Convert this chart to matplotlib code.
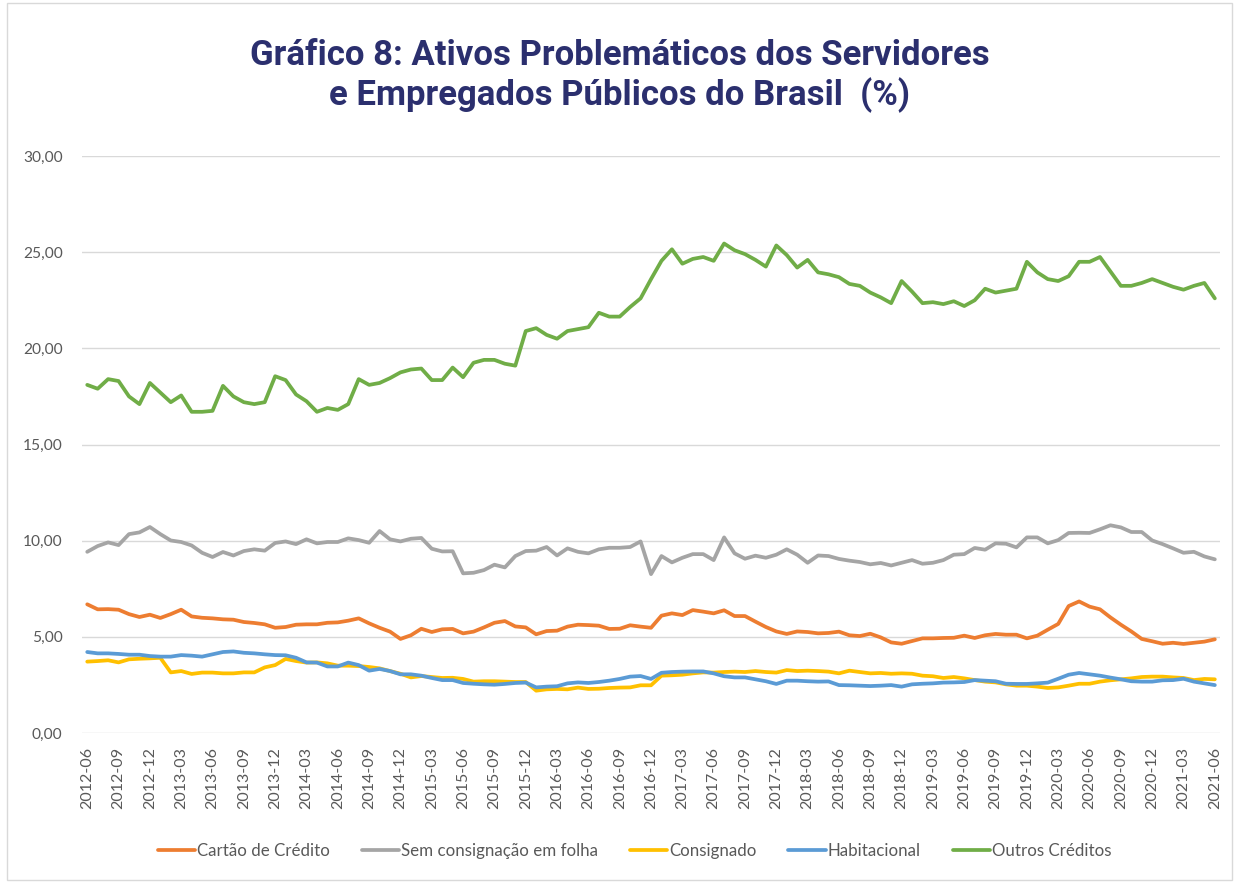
import numpy as np
import pandas as pd
import matplotlib
matplotlib.use('Agg')
import matplotlib.pyplot as plt
from matplotlib.patches import Rectangle

# monthly categories 2012-06 .. 2021-06
months = list(pd.period_range('2012-06', '2021-06', freq='M').strftime('%Y-%m'))

cartao = [6.69, 6.43, 6.44, 6.41, 6.18, 6.03, 6.15, 5.98, 6.18, 6.41,
          6.06, 5.99, 5.96, 5.91, 5.89, 5.77, 5.72, 5.65, 5.47, 5.51,
          5.63, 5.65, 5.65, 5.73, 5.75, 5.84, 5.96, 5.70, 5.47, 5.27,
          4.89, 5.08, 5.42, 5.25, 5.39, 5.41, 5.18, 5.27, 5.49, 5.73,
          5.82, 5.54, 5.49, 5.13, 5.30, 5.32, 5.53, 5.63, 5.61, 5.58,
          5.41, 5.42, 5.60, 5.53, 5.47, 6.10, 6.22, 6.13, 6.39, 6.31,
          6.22, 6.38, 6.08, 6.08, 5.79, 5.51, 5.28, 5.15, 5.28, 5.25,
          5.18, 5.20, 5.27, 5.08, 5.04, 5.16, 4.97, 4.71, 4.64, 4.78,
          4.92, 4.92, 4.94, 4.95, 5.06, 4.94, 5.08, 5.15, 5.11, 5.11,
          4.92, 5.06, 5.37, 5.67, 6.60, 6.84, 6.57, 6.43, 6.01, 5.63,
          5.28, 4.89, 4.77, 4.64, 4.69, 4.63, 4.69, 4.75, 4.87]

sem_consig = [9.42, 9.72, 9.91, 9.77, 10.34, 10.43, 10.71, 10.34, 10.01, 9.93,
              9.75, 9.37, 9.15, 9.41, 9.23, 9.46, 9.55, 9.48, 9.88, 9.96,
              9.82, 10.07, 9.86, 9.93, 9.93, 10.12, 10.03, 9.89, 10.50, 10.07,
              9.96, 10.10, 10.14, 9.58, 9.44, 9.45, 8.30, 8.33, 8.47, 8.75,
              8.61, 9.20, 9.46, 9.48, 9.67, 9.23, 9.60, 9.42, 9.34, 9.55,
              9.63, 9.63, 9.67, 9.96, 8.26, 9.20, 8.87, 9.11, 9.30, 9.30,
              8.99, 10.17, 9.34, 9.06, 9.22, 9.11, 9.27, 9.55, 9.27, 8.85,
              9.23, 9.20, 9.05, 8.96, 8.89, 8.77, 8.84, 8.71, 8.85, 8.99,
              8.80, 8.85, 8.99, 9.27, 9.30, 9.62, 9.53, 9.86, 9.84, 9.65,
              10.17, 10.17, 9.86, 10.03, 10.40, 10.41, 10.40, 10.59, 10.80, 10.69,
              10.45, 10.45, 10.01, 9.82, 9.60, 9.37, 9.42, 9.18, 9.03]

consignado = [3.71, 3.74, 3.78, 3.67, 3.83, 3.86, 3.88, 3.91, 3.15, 3.22,
              3.07, 3.14, 3.14, 3.10, 3.10, 3.15, 3.15, 3.41, 3.53, 3.85,
              3.74, 3.66, 3.67, 3.62, 3.50, 3.50, 3.48, 3.43, 3.36, 3.22,
              3.08, 2.89, 2.96, 2.91, 2.86, 2.87, 2.81, 2.67, 2.69, 2.69,
              2.67, 2.65, 2.65, 2.20, 2.27, 2.29, 2.27, 2.36, 2.29, 2.30,
              2.34, 2.36, 2.37, 2.48, 2.48, 2.98, 3.00, 3.03, 3.10, 3.15,
              3.14, 3.17, 3.19, 3.17, 3.22, 3.17, 3.14, 3.27, 3.22, 3.24,
              3.22, 3.19, 3.10, 3.24, 3.17, 3.10, 3.12, 3.08, 3.10, 3.08,
              2.98, 2.95, 2.86, 2.91, 2.84, 2.75, 2.67, 2.63, 2.53, 2.46,
              2.46, 2.41, 2.34, 2.37, 2.46, 2.56, 2.56, 2.67, 2.74, 2.79,
              2.84, 2.91, 2.93, 2.93, 2.89, 2.86, 2.75, 2.81, 2.79]

habitacional = [4.21, 4.14, 4.14, 4.11, 4.07, 4.07, 4.00, 3.97, 3.97, 4.05,
                4.02, 3.97, 4.09, 4.21, 4.24, 4.17, 4.14, 4.09, 4.05, 4.04,
                3.91, 3.67, 3.66, 3.46, 3.46, 3.66, 3.53, 3.24, 3.33, 3.22,
                3.05, 3.05, 2.98, 2.86, 2.75, 2.75, 2.60, 2.56, 2.53, 2.51,
                2.55, 2.60, 2.62, 2.37, 2.41, 2.43, 2.58, 2.63, 2.60, 2.65,
                2.72, 2.81, 2.93, 2.96, 2.81, 3.13, 3.17, 3.19, 3.20, 3.20,
                3.10, 2.95, 2.89, 2.89, 2.79, 2.69, 2.55, 2.72, 2.72, 2.69,
                2.67, 2.68, 2.49, 2.48, 2.46, 2.44, 2.46, 2.49, 2.41, 2.53,
                2.56, 2.58, 2.62, 2.63, 2.65, 2.75, 2.72, 2.69, 2.56, 2.55,
                2.55, 2.58, 2.62, 2.82, 3.03, 3.12, 3.05, 2.98, 2.88, 2.79,
                2.69, 2.67, 2.67, 2.74, 2.75, 2.82, 2.67, 2.58, 2.49]

outros = [18.10, 17.90, 18.40, 18.30, 17.50, 17.10, 18.20, 17.70, 17.20, 17.55,
          16.70, 16.70, 16.75, 18.05, 17.50, 17.20, 17.10, 17.20, 18.55, 18.35,
          17.60, 17.25, 16.70, 16.90, 16.80, 17.10, 18.40, 18.10, 18.20, 18.45,
          18.75, 18.90, 18.95, 18.35, 18.35, 19.00, 18.50, 19.25, 19.40, 19.40,
          19.20, 19.10, 20.90, 21.05, 20.70, 20.50, 20.90, 21.00, 21.10, 21.85,
          21.65, 21.65, 22.15, 22.60, 23.60, 24.55, 25.15, 24.40, 24.65, 24.75,
          24.55, 25.45, 25.10, 24.90, 24.60, 24.25, 25.35, 24.85, 24.20, 24.60,
          23.95, 23.85, 23.70, 23.35, 23.25, 22.90, 22.65, 22.35, 23.50, 22.95,
          22.35, 22.40, 22.30, 22.45, 22.20, 22.50, 23.10, 22.90, 23.00, 23.10,
          24.50, 23.95, 23.60, 23.50, 23.75, 24.50, 24.50, 24.75, 24.00, 23.25,
          23.25, 23.40, 23.60, 23.40, 23.20, 23.05, 23.25, 23.40, 22.60]

series_names = ['Cartão de Crédito', 'Sem consignação em folha', 'Consignado',
                'Habitacional', 'Outros Créditos']
series_colors = ['#ED7D31', '#A5A5A5', '#FFC000', '#5B9BD5', '#70AD47']

plt.rcParams['font.family'] = ['Lato', 'DejaVu Sans']

fig = plt.figure(figsize=(12.39, 8.83), dpi=100)
ax = fig.add_axes([0.0662, 0.1699, 0.9185, 0.6534])

x = np.arange(len(months))
for name, vals, col in zip(series_names,
                           [cartao, sem_consig, consignado, habitacional, outros],
                           series_colors):
    ax.plot(x, vals, color=col, lw=2.7, label=name, solid_joinstyle='round',
            solid_capstyle='round')

ax.set_xlim(-0.5, len(months) - 0.5)
ax.set_ylim(0, 30)
ax.set_yticks(np.arange(0, 31, 5))
ax.set_yticklabels([f'{v:.2f}'.replace('.', ',') for v in np.arange(0, 31, 5)],
                   fontsize=11.2, color='#595959')
ax.set_xticks(x[::3])
ax.set_xticklabels(months[::3], rotation=90, fontsize=11.5, color='#595959')
ax.tick_params(axis='both', length=0)
ax.tick_params(axis='y', pad=14)
ax.tick_params(axis='x', pad=10)
ax.grid(axis='y', color='#D9D9D9', lw=1)
ax.set_axisbelow(True)
for s in ax.spines.values():
    s.set_visible(False)

fig.text(0.5, 0.914, 'Gráfico 8: Ativos Problemáticos dos Servidores\ne Empregados Públicos do Brasil  (%)',
         ha='center', va='center', fontsize=25, fontweight='bold', color='#2B2F6E',
         family='Roboto', linespacing=1.2)

fig.legend(loc='center', bbox_to_anchor=(0.512, 0.036), ncol=5, frameon=False,
           fontsize=12.2, handlelength=2.2, handletextpad=0.1, columnspacing=1.9,
           labelcolor='#595959')

fig.patches.append(Rectangle((0.006, 0.003), 0.988, 0.994, transform=fig.transFigure,
                             fill=False, edgecolor='#D9D9D9', lw=1))

fig.savefig('out.png', dpi=100)
